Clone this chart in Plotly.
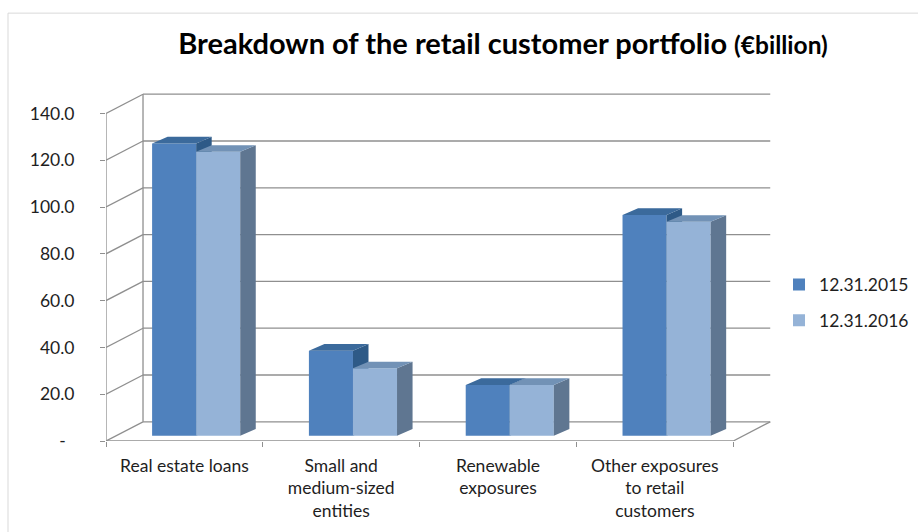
import plotly.graph_objects as go

# ---- data -------------------------------------------------------------
categories = [
    "Real estate loans",
    "Small and<br>medium-sized<br>entities",
    "Renewable<br>exposures",
    "Other exposures<br>to retail<br>customers",
]
series_names = ["12.31.2015", "12.31.2016"]
values_2015 = [124.9, 36.3, 21.7, 94.3]
values_2016 = [121.3, 28.8, 21.7, 91.4]
y_ticks = [0, 20, 40, 60, 80, 100, 120, 140]
y_tick_labels = ["-\u2002", "20.0", "40.0", "60.0", "80.0", "100.0", "120.0", "140.0"]

# ---- pseudo-3D geometry (axis units) ---------------------------------
WALL_DX, WALL_DY = 0.236, 8.2      # depth of the floor / side wall
BAR_BASE = 2.26                    # bars sit a little behind the front edge
BAR_SHIFT = 0.075
BAR_W = 0.281
BAR_DX, BAR_DY = 0.099, 2.86       # depth of each column
X_MAX = 4.26
Y_MAX = 150

FONT = "Lato"
TEXT = "#1e1e1e"
GRID = "#8f8f8f"

colors = {
    "12.31.2015": dict(front="#4F81BD", top="#3B6A9C", side="#2E5A87"),
    "12.31.2016": dict(front="#95B3D7", top="#7292B6", side="#5F7691"),
}

fig = go.Figure()

n = len(categories)
centers = [i + 0.5 + BAR_SHIFT for i in range(n)]


def faces(values, offset):
    """Top and right-side polygons for a row of columns."""
    top_x, top_y, side_x, side_y = [], [], [], []
    for c, v in zip(centers, values):
        xl = c + offset
        xr = xl + BAR_W
        t = BAR_BASE + v
        top_x += [xl, xr, xr + BAR_DX, xl + BAR_DX, xl, None]
        top_y += [t, t, t + BAR_DY, t + BAR_DY, t, None]
        side_x += [xr, xr, xr + BAR_DX, xr + BAR_DX, xr, None]
        side_y += [BAR_BASE, t, t + BAR_DY, BAR_BASE + BAR_DY, BAR_BASE, None]
    return top_x, top_y, side_x, side_y


# each series lives on its own overlaid axes so the later one paints in front
for k, (name, vals, off) in enumerate(
    [(series_names[0], values_2015, -BAR_W), (series_names[1], values_2016, 0.0)]
):
    xa, ya = ("x", "y") if k == 0 else ("x2", "y2")
    col = colors[name]
    fig.add_trace(go.Bar(
        x=centers, y=vals, base=[BAR_BASE] * n, width=BAR_W, offset=off,
        marker=dict(color=col["front"], line=dict(width=0)),
        name=name, showlegend=False, hoverinfo="skip", xaxis=xa, yaxis=ya,
    ))
    tx, ty, sx, sy = faces(vals, off)
    fig.add_trace(go.Scatter(
        x=sx, y=sy, fill="toself", fillcolor=col["side"], mode="lines",
        line=dict(width=0), showlegend=False, hoverinfo="skip", xaxis=xa, yaxis=ya,
    ))
    fig.add_trace(go.Scatter(
        x=tx, y=ty, fill="toself", fillcolor=col["top"], mode="lines",
        line=dict(width=0), showlegend=False, hoverinfo="skip", xaxis=xa, yaxis=ya,
    ))

# legend entries
for name in series_names:
    fig.add_trace(go.Scatter(
        x=[None], y=[None], mode="markers", name=name,
        marker=dict(symbol="square", size=8, color=colors[name]["front"]),
        legendgroup=name,
    ))

# ---- walls, floor and gridlines --------------------------------------
shapes = []
line = dict(color=GRID, width=1.3)


def seg(x0, y0, x1, y1):
    return dict(type="line", xref="x", yref="y", layer="below",
                x0=x0, y0=y0, x1=x1, y1=y1, line=line)


for t in y_ticks:
    shapes.append(seg(WALL_DX, t + WALL_DY, n + WALL_DX, t + WALL_DY))  # back wall
    shapes.append(seg(0, t, WALL_DX, t + WALL_DY))                      # side wall
shapes.append(seg(WALL_DX, WALL_DY, WALL_DX, y_ticks[-1] + WALL_DY))    # back corner
shapes.append(seg(n, 0, n + WALL_DX, WALL_DY))                          # floor right edge
shapes.append(seg(0, 0, 0, y_ticks[-1]))                                # value axis
shapes.append(seg(0, 0, n, 0))                                          # floor front edge
# chart frame
shapes.append(dict(type="rect", xref="paper", yref="paper", layer="below",
                   x0=-0.1467, y0=-0.29, x1=1.23, y1=1.219,
                   line=dict(color="#d9d9d9", width=1)))

fig.update_layout(
    width=918, height=532,
    margin=dict(l=106, r=144, t=90, b=91, autoexpand=False),
    paper_bgcolor="white", plot_bgcolor="white",
    barmode="overlay",
    shapes=shapes,
    title=dict(
        text="<b>Breakdown of the retail customer portfolio "
             "<span style='font-size:24.5px'>(€billion)</span></b>",
        x=503 / 918, xanchor="center", y=1 - 44 / 532, yanchor="middle",
        font=dict(family=FONT, size=29, color="#000000"),
    ),
    legend=dict(
        x=1.0075, xanchor="left", y=0.4965, yanchor="top",
        font=dict(family=FONT, size=17.5, color=TEXT),
        bgcolor="rgba(0,0,0,0)", tracegroupgap=10, traceorder="grouped",
        itemsizing="constant",
    ),
    xaxis=dict(
        range=[0, X_MAX], showgrid=False, zeroline=False, showline=False,
        tickmode="array", tickvals=[i + 0.5 for i in range(n)], ticktext=categories,
        ticks="", ticklabelstandoff=12,
        tickfont=dict(family=FONT, size=17.5, color=TEXT),
        minor=dict(tickmode="array", tickvals=list(range(n + 1)), ticks="outside",
                   ticklen=5, tickcolor=GRID, tickwidth=1.3, showgrid=False),
        fixedrange=True,
    ),
    yaxis=dict(
        range=[0, Y_MAX], showgrid=False, zeroline=False, showline=False,
        tickmode="array", tickvals=y_ticks, ticktext=y_tick_labels,
        ticks="outside", ticklen=5, tickcolor=GRID, tickwidth=1.3,
        ticklabelstandoff=22,
        tickfont=dict(family=FONT, size=17.5, color=TEXT),
        fixedrange=True,
    ),
    xaxis2=dict(overlaying="x", range=[0, X_MAX], visible=False, fixedrange=True),
    yaxis2=dict(overlaying="y", range=[0, Y_MAX], visible=False, fixedrange=True),
)

fig.write_html("out.html")
